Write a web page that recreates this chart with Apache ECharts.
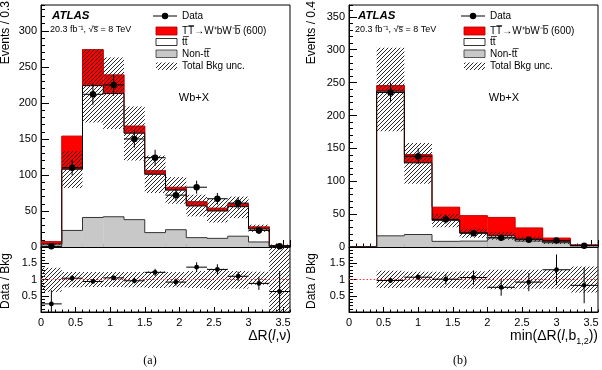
<!DOCTYPE html>
<html>
<head>
<meta charset="utf-8">
<title>Wb+X</title>
<script src="https://cdn.jsdelivr.net/npm/echarts@6.0.0/dist/echarts.min.js"></script>
<style>
  html, body { margin: 0; padding: 0; background: #fff; }
  #chart { width: 602px; height: 370px; }
</style>
</head>
<body>
<div id="chart"></div>
<script>
// (a) dR(l,nu), bins of 0.3
const leftEdges = [0, 0.3, 0.6, 0.9, 1.2, 1.5, 1.8, 2.1, 2.4, 2.7, 3.0, 3.3, 3.6];
const leftNonTT = [1, 23, 41, 42, 38, 20, 24, 13, 12, 15, 7, 0.3];
const leftTT = [3, 85, 183, 171, 120, 81, 55, 44, 38, 41, 18, 1.3];
const leftSig = [3.5, 46, 50, 26, 10, 5, 4, 6, 4, 4, 3, 0.3];
const leftUncLo = [2.5, 82, 173, 164, 120, 75, 60, 42.5, 34, 40, 21, 0];
const leftUncHi = [5.4, 133, 275, 263, 195, 127, 97, 72.6, 66.6, 70, 31, 3.5];
const leftData = [1, 110, 212, 225, 150, 124, 72, 83, 67, 61, 23, 1];
const leftDataErr = [1, 10.5, 14.5, 15, 12, 11, 8.5, 9, 8, 8, 5, 1];
const leftRatio = [0.25, 1.04, 0.94, 1.05, 0.96, 1.22, 0.92, 1.38, 1.31, 1.1, 0.88, 0.63];
const leftRatioErr = [0.42, 0.1, 0.07, 0.07, 0.08, 0.11, 0.11, 0.15, 0.16, 0.14, 0.2, 0.63];
const leftRatioLo = [0.62, 0.76, 0.77, 0.77, 0.76, 0.74, 0.76, 0.74, 0.68, 0.72, 0.84, 0];
const leftRatioHi = [1.36, 1.23, 1.23, 1.23, 1.23, 1.25, 1.23, 1.26, 1.33, 1.26, 1.24, 2];

// (b) min(dR(l,b1,2)), bins of 0.4
const rightEdges = [0, 0.4, 0.8, 1.2, 1.6, 2.0, 2.4, 2.8, 3.2, 3.6];
const rightNonTT = [0, 17, 19, 8.6, 9, 14, 9, 6.5, 2];
const rightTT = [0, 220, 109, 32, 12.3, 3, 3, 1.1, 0.6];
const rightSig = [0, 8.6, 12.5, 20, 26.4, 28, 17, 6, 0.6];
const rightUncLo = [null, 176, 96, 30, 14, 11, 8, 4.5, 1.2];
const rightUncHi = [null, 303, 158, 50, 28, 23, 16, 11, 4];
const rightData = [null, 235, 138, 42, 21, 14, 11, 10, 2];
const rightDataErr = [null, 15, 12, 6.5, 4.6, 3.7, 3.3, 3.2, 1.4];
const rightRatio = [null, 0.97, 1.07, 1.01, 1.06, 0.76, 0.92, 1.3, 0.82];
const rightRatioErr = [null, 0.06, 0.09, 0.16, 0.22, 0.26, 0.28, 0.47, 0.55];
const rightRatioLo = [null, 0.74, 0.75, 0.74, 0.72, 0.7, 0.72, 0.72, 0.6];
const rightRatioHi = [null, 1.27, 1.24, 1.24, 1.25, 1.3, 1.3, 1.3, 1.4];

const xRange = [0, 3.6];
const ratioRef = 1;
const legendLabels = ['Data', 'TT\u0305→W\u207AbW\u207Bb\u0305 (600)', 'tt\u0305', 'Non-tt\u0305', 'Total Bkg unc.'];
const font = 'Liberation Sans, Arial, Helvetica, sans-serif';

const makeHatch = () => {
    const c = document.createElement('canvas');
    c.width = 4; c.height = 4;
    const g = c.getContext('2d');
    g.strokeStyle = '#2a2a2a';
    g.lineWidth = 1;
    g.beginPath();
    g.moveTo(0, 4); g.lineTo(4, 0);
    g.moveTo(-1, 1); g.lineTo(1, -1);
    g.moveTo(3, 5); g.lineTo(5, 3);
    g.stroke();
    return c;
};
const hatch = {image: makeHatch(), repeat: 'repeat'};

// stack the components bin by bin: [xl, xr, lower, upper, upper of previous bin]
const stacked = (edges, layers) => {
    const base = layers[0].map(() => 0);
    return layers.map(vals => {
        const rows = vals.map((v, i) => [edges[i], edges[i + 1], base[i], base[i] + v, 0]);
        rows.forEach((r, i) => { r[4] = i ? rows[i - 1][3] : 0; base[i] = r[3]; });
        return rows;
    });
};
const boxes = (edges, lo, hi) => lo.map((l, i) => [edges[i], edges[i + 1], l, hi[i]]).filter(d => d[2] != null);
const points = (edges, vals, errs) => vals.map((v, i) => [edges[i], edges[i + 1], v, errs[i]]).filter(d => d[2] != null);

const histFill = color => (params, api) => {
    const a = api.coord([api.value(0), api.value(3)]);
    const b = api.coord([api.value(1), api.value(2)]);
    return {type: 'rect', shape: {x: a[0], y: a[1], width: b[0] - a[0] + 0.4, height: b[1] - a[1]}, style: {fill: color}};
};
const histLine = color => (params, api) => {
    const xl = api.value(0), xr = api.value(1), up = api.value(3), prev = api.value(4);
    const p0 = api.coord([xl, prev]), p1 = api.coord([xl, up]), p2 = api.coord([xr, up]);
    return {type: 'polyline', shape: {points: [p0, p1, p2]}, style: {stroke: color, lineWidth: 1, fill: null}};
};
const renderHatch = (params, api) => {
    const a = api.coord([api.value(0), api.value(3)]);
    const b = api.coord([api.value(1), api.value(2)]);
    return {type: 'rect', shape: {x: a[0], y: a[1], width: b[0] - a[0], height: b[1] - a[1]}, style: {fill: hatch}};
};
const renderPoint = size => (params, api) => {
    const xl = api.value(0), xr = api.value(1), y = api.value(2), e = api.value(3);
    const xc = (xl + xr) / 2;
    const c = api.coord([xc, y]);
    const l = api.coord([xl, y]);
    const r = api.coord([xr, y]);
    const t = api.coord([xc, y + e]);
    const b = api.coord([xc, y - e]);
    const cs = params.coordSys;
    const clamp = v => Math.min(cs.y + cs.height, Math.max(cs.y, v));
    return {type: 'group', children: [
        {type: 'line', shape: {x1: l[0], y1: c[1], x2: r[0], y2: c[1]}, style: {stroke: '#000', lineWidth: 1}},
        {type: 'line', shape: {x1: c[0], y1: clamp(t[1]), x2: c[0], y2: clamp(b[1])}, style: {stroke: '#000', lineWidth: 1}},
        {type: 'circle', shape: {cx: c[0], cy: c[1], r: size}, style: {fill: '#000'}}
    ]};
};

const panelSeries = (gMain, gRatio, edges, nonTT, tt, sig, lo, hi, data, dataErr, ratio, ratioErr, rLo, rHi) => {
    const fills = ['#c8c8c8', '#fff', '#ff0000'];
    const lines = ['#333', '#000', '#cc0000'];
    const layers = stacked(edges, [nonTT, tt, sig]);
    const xi = gMain * 2, ri = gRatio * 2;
    const out = [];
    layers.forEach((rows, k) => out.push({type: 'custom', xAxisIndex: xi, yAxisIndex: xi, renderItem: histFill(fills[k]),
        data: rows, z: 2, silent: true, clip: true}));
    // outlines drawn top component first, so the lower ones stay on top like a THStack
    [2, 1, 0].forEach(k => out.push({type: 'custom', xAxisIndex: xi, yAxisIndex: xi, renderItem: histLine(lines[k]),
        data: layers[k], z: 3, silent: true, clip: true}));
    out.push({type: 'custom', xAxisIndex: xi, yAxisIndex: xi, renderItem: renderHatch, data: boxes(edges, lo, hi), z: 4, silent: true});
    out.push({type: 'custom', xAxisIndex: xi, yAxisIndex: xi, renderItem: renderPoint(3.2), data: points(edges, data, dataErr), z: 5, silent: true});
    out.push({type: 'custom', xAxisIndex: ri, yAxisIndex: ri, renderItem: renderHatch, data: boxes(edges, rLo, rHi), z: 4, silent: true});
    out.push({type: 'line', xAxisIndex: ri, yAxisIndex: ri, data: xRange.map(x => [x, ratioRef]), symbol: 'none', z: 5, silent: true,
        lineStyle: {color: '#ff3030', type: [1.5, 2], width: 1}});
    out.push({type: 'custom', xAxisIndex: ri, yAxisIndex: ri, renderItem: renderPoint(2.4), data: points(edges, ratio, ratioErr), z: 6, silent: true});
    return out;
};

const xPair = (g, labels) => [
    {type: 'value', gridIndex: g, position: 'bottom', min: xRange[0], max: xRange[1], interval: 0.5,
        axisLine: {onZero: false, lineStyle: {color: '#000'}},
        axisTick: {inside: true, length: labels ? 5 : 7, lineStyle: {color: '#000'}},
        axisLabel: {show: labels, showMaxLabel: false, color: '#000', fontSize: 11, margin: 5, fontFamily: font},
        splitLine: {show: false}},
    {type: 'value', gridIndex: g, position: 'bottom', min: xRange[0], max: xRange[1], interval: 0.1,
        axisLine: {show: false}, axisTick: {inside: true, length: labels ? 2.5 : 3.5, lineStyle: {color: '#000'}},
        axisLabel: {show: false}, splitLine: {show: false}}
];
const yPair = (g, max, major, minor, ratio) => [
    {type: 'value', gridIndex: g, position: 'left', min: 0, max: max, interval: major,
        axisLine: {onZero: false, lineStyle: {color: '#000'}},
        axisTick: {inside: true, length: 8, lineStyle: {color: '#000'}},
        axisLabel: {showMaxLabel: false, showMinLabel: !ratio, color: '#000', fontSize: 11, margin: 4, fontFamily: font},
        splitLine: {show: false}},
    {type: 'value', gridIndex: g, position: 'left', min: 0, max: max, interval: minor,
        axisLine: {show: false}, axisTick: {inside: true, length: 4, lineStyle: {color: '#000'}},
        axisLabel: {show: false}, splitLine: {show: false}}
];

const txt = (x, y, text, extra) => ({type: 'text', x: x, y: y, silent: true,
    style: Object.assign({text: text, fill: '#000', font: '10px ' + font, textAlign: 'left', textVerticalAlign: 'middle'}, extra || {})});

const legend = dx => {
    const el = [];
    el.push({type: 'line', shape: {x1: 153 + dx, y1: 16, x2: 177 + dx, y2: 16}, style: {stroke: '#000', lineWidth: 1}});
    el.push({type: 'circle', shape: {cx: 165 + dx, cy: 16, r: 3.2}, style: {fill: '#000'}});
    el.push({type: 'rect', shape: {x: 156 + dx, y: 27, width: 21, height: 8}, style: {fill: '#ff0000', stroke: '#a00000', lineWidth: 0.8}});
    el.push({type: 'rect', shape: {x: 156 + dx, y: 38.5, width: 21, height: 7}, style: {fill: '#fff', stroke: '#000', lineWidth: 0.8}});
    el.push({type: 'rect', shape: {x: 156 + dx, y: 50, width: 21, height: 7.5}, style: {fill: '#c8c8c8', stroke: '#333', lineWidth: 0.8}});
    el.push({type: 'rect', shape: {x: 156 + dx, y: 62.5, width: 21, height: 7.5}, style: {fill: hatch}});
    [16, 31, 42, 54, 66].forEach((y, i) => el.push(txt(182 + dx, y, legendLabels[i])));
    return el;
};

const chart = echarts.init(document.getElementById('chart'), null, {renderer: 'canvas'});

const gridBase = {show: true, borderColor: '#000', borderWidth: 1, backgroundColor: 'transparent', outerBoundsMode: 'none'};

chart.setOption({
    animation: false,
    backgroundColor: '#fff',
    grid: [
        Object.assign({left: 41, top: 5, width: 249, height: 242}, gridBase),
        Object.assign({left: 41, top: 247, width: 249, height: 65}, gridBase),
        Object.assign({left: 349, top: 5, width: 249, height: 242}, gridBase),
        Object.assign({left: 349, top: 247, width: 249, height: 65}, gridBase)
    ],
    xAxis: [].concat(xPair(0, false), xPair(1, true), xPair(2, false), xPair(3, true)),
    yAxis: [].concat(yPair(0, 336, 50, 10, false), yPair(1, 2, 0.5, 0.1, true),
        yPair(2, 368, 50, 10, false), yPair(3, 2, 0.5, 0.1, true)),
    series: [].concat(
        panelSeries(0, 1, leftEdges, leftNonTT, leftTT, leftSig, leftUncLo, leftUncHi, leftData, leftDataErr,
            leftRatio, leftRatioErr, leftRatioLo, leftRatioHi),
        panelSeries(2, 3, rightEdges, rightNonTT, rightTT, rightSig, rightUncLo, rightUncHi, rightData, rightDataErr,
            rightRatio, rightRatioErr, rightRatioLo, rightRatioHi)
    ),
    graphic: [].concat(
        legend(0), legend(308),
        [
            txt(52, 16, 'ATLAS', {font: 'italic bold 11.5px ' + font}),
            txt(50, 30, '20.3 fb\u207B\u00B9, \u221As\u0305 = 8 TeV', {font: '9px ' + font}),
            txt(194, 98, 'Wb+X', {font: '11px ' + font, textAlign: 'center'}),
            txt(358, 16, 'ATLAS', {font: 'italic bold 11.5px ' + font}),
            txt(355, 30, '20.3 fb\u207B\u00B9, \u221As\u0305 = 8 TeV', {font: '9px ' + font}),
            txt(504, 98, 'Wb+X', {font: '11px ' + font, textAlign: 'center'}),
            {type: 'text', x: 6, y: 1, rotation: Math.PI / 2, silent: true,
                style: {text: 'Events / 0.3', fill: '#000', font: '12px ' + font, textAlign: 'right', textVerticalAlign: 'middle'}},
            {type: 'text', x: 6, y: 281, rotation: Math.PI / 2, silent: true,
                style: {text: 'Data / Bkg', fill: '#000', font: '12px ' + font, textAlign: 'center', textVerticalAlign: 'middle'}},
            {type: 'text', x: 312, y: 1, rotation: Math.PI / 2, silent: true,
                style: {text: 'Events / 0.4', fill: '#000', font: '12px ' + font, textAlign: 'right', textVerticalAlign: 'middle'}},
            {type: 'text', x: 312, y: 281, rotation: Math.PI / 2, silent: true,
                style: {text: 'Data / Bkg', fill: '#000', font: '12px ' + font, textAlign: 'center', textVerticalAlign: 'middle'}},
            {type: 'text', x: 291, y: 336, silent: true,
                style: {text: '{n|ΔR(}{i|l}{n|,ν)}', textAlign: 'right', textVerticalAlign: 'middle',
                    rich: {n: {fontSize: 14, fontFamily: font, fill: '#000', lineHeight: 18},
                        i: {fontSize: 14, fontFamily: font, fontStyle: 'italic', fill: '#000', lineHeight: 18}}}},
            {type: 'text', x: 598, y: 336, silent: true,
                style: {text: '{n|min(ΔR(}{i|l}{n|,b}{s|1,2}{n|))}', textAlign: 'right', textVerticalAlign: 'middle',
                    rich: {n: {fontSize: 14, fontFamily: font, fill: '#000', lineHeight: 20},
                        i: {fontSize: 14, fontFamily: font, fontStyle: 'italic', fill: '#000', lineHeight: 20},
                        s: {fontSize: 9, fontFamily: font, fill: '#000', lineHeight: 9, verticalAlign: 'bottom'}}}},
            txt(150, 361, '(a)', {font: '12px Liberation Serif, Times New Roman, serif', textAlign: 'center'}),
            txt(460, 361, '(b)', {font: '12px Liberation Serif, Times New Roman, serif', textAlign: 'center'})
        ]
    )
});
</script>
</body>
</html>
